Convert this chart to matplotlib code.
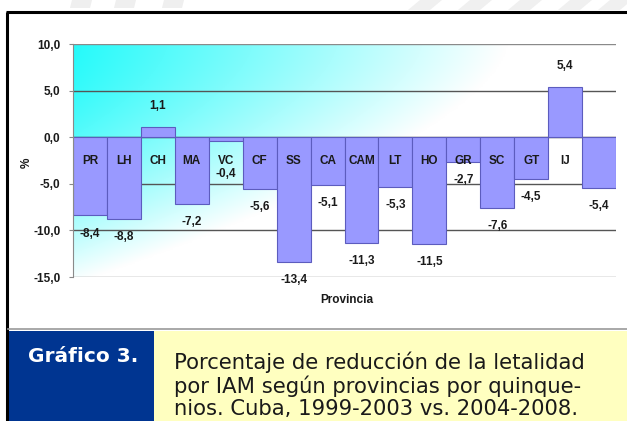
import numpy as np
import matplotlib.pyplot as plt
from matplotlib.patches import Rectangle, Polygon

# --- Data ---
provincias = ["PR", "LH", "CH", "MA", "VC", "CF", "SS", "CA", "CAM", "LT",
              "HO", "GR", "SC", "GT", "IJ", ""]
valores = [-8.4, -8.8, 1.1, -7.2, -0.4, -5.6, -13.4, -5.1, -11.3, -5.3,
           -11.5, -2.7, -7.6, -4.5, 5.4, -5.4]
yticks = [10, 5, 0, -5, -10, -15]
caption_num = "Gráfico 3."
caption_txt = ("Porcentaje de reducción de la letalidad\n"
               "por IAM según provincias por quinque-\n"
               "nios. Cuba, 1999-2003 vs. 2004-2008.")

W, H = 627, 421
fig = plt.figure(figsize=(W / 100, H / 100), dpi=100)
fig.patch.set_facecolor("white")

def fx(px):
    return px / W

def fy(py):
    return 1 - py / H

# --- Background decorations (frame, watermark, caption) ---
bg = fig.add_axes([0, 0, 1, 1])
bg.set_xlim(0, W)
bg.set_ylim(H, 0)
bg.axis("off")

# faint watermark stripes at the top
for x0 in [72, 116, 164]:
    bg.add_patch(Polygon([[x0, 0], [x0 + 20, 0], [x0 + 18, 8], [x0 - 2, 8]],
                         closed=True, fc="#efefef", ec="none"))
for x0 in [420, 470, 520, 570, 610]:
    bg.add_patch(Polygon([[x0, 0], [x0 + 22, 0], [x0 + 10, 10], [x0 - 12, 10]],
                         closed=True, fc="#f0f0f0", ec="none"))

bg.plot([7, 7], [12, H], color="black", lw=2.2, solid_capstyle="butt")
bg.plot([6, W], [12, 12], color="black", lw=2.2, solid_capstyle="butt")
bg.plot([8, W], [329, 329], color="#9a9a9a", lw=1.2)

bg.add_patch(Rectangle((8, 331), 146, H - 331, fc="#003591", ec="none"))
bg.add_patch(Rectangle((154, 331), W - 154, H - 331, fc="#ffffc0", ec="none"))
bg.text(83, 357, caption_num, color="white", fontsize=14.5, fontweight="bold",
        family="DejaVu Sans", ha="center", va="center")
bg.text(174, 385, caption_txt, color="#1a1a1a", fontsize=15.2,
        family="DejaVu Sans", ha="left", va="center", linespacing=1.14)

# --- Chart ---
left, right, top, bottom = 73, 616, 44, 277
ax = fig.add_axes([fx(left), fy(bottom), fx(right - left), (bottom - top) / H])

ymin, ymax = -15, 10
n = len(valores)
ax.set_xlim(-0.5, n - 0.5)
ax.set_ylim(ymin, ymax)

# gradient fill: cyan top-left fading to white
gx = np.linspace(0, 1, 300)
gy = np.linspace(0, 1, 200)
GX, GY = np.meshgrid(gx, gy)
t = np.clip(1.25 * GX + 0.95 * GY ** 1.6, 0, 1)
cyan = np.array([0.15, 0.98, 0.98])
white = np.array([1.0, 1.0, 1.0])
img = cyan[None, None, :] * (1 - t[..., None]) + white[None, None, :] * t[..., None]
ax.imshow(img, extent=[-0.5, n - 0.5, ymin, ymax], origin="upper",
          aspect="auto", zorder=0)
ax.set_ylim(ymin, ymax)

for yv in yticks:
    col = "#8a8a8a" if yv in (10, -15) else "#555555"
    if yv == 0:
        col = "#333333"
    ax.axhline(yv, color=col, lw=1.0, zorder=1)

x = np.arange(n)
ax.bar(x, valores, width=1.0, color="#9999ff", edgecolor="#5c5cbe",
       linewidth=0.8, zorder=2)

lab_font = dict(family=["Liberation Sans", "DejaVu Sans"], fontweight="bold",
                fontsize=8.5, color="#1a1a1a")

for xi, name in zip(x, provincias):
    if name:
        ax.text(xi, -2.5, name, ha="center", va="center", zorder=4, **lab_font)

for xi, v in zip(x, valores):
    s = f"{v:.1f}".replace(".", ",")
    if v >= 0:
        ax.annotate(s, (xi, v), xytext=(0, 15), textcoords="offset points",
                    ha="center", va="center", zorder=4, **lab_font)
    else:
        ax.annotate(s, (xi, min(v, -2.0)), xytext=(0, -13),
                    textcoords="offset points", ha="center", va="center",
                    zorder=4, **lab_font)

ax.set_yticks(yticks)
ax.set_yticklabels([f"{v:.1f}".replace(".", ",") for v in yticks], **lab_font)
ax.set_xticks([])
ax.tick_params(axis="y", length=3, color="#888888", pad=6)
for side in ["top", "right", "bottom"]:
    ax.spines[side].set_visible(False)
ax.spines["left"].set_color("#8a8a8a")

fig.text(fx(27), fy(163), "%", rotation=90, ha="center", va="center", **lab_font)
fig.text(fx(347), fy(300), "Provincia", ha="center", va="center", **lab_font)

fig.savefig("out.png", dpi=100)
